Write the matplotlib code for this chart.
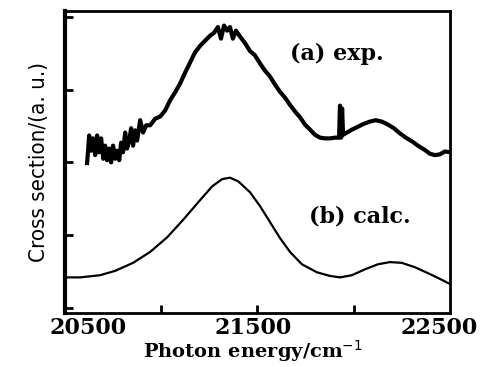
#!/usr/bin/env python3

import numpy as np
import matplotlib
matplotlib.use('Agg')
import matplotlib.pyplot as plt

exp_x = [20614, 20625, 20635, 20645, 20656, 20666, 20677, 20687, 20698, 20708,
         20718, 20729, 20739, 20749, 20760, 20770, 20781, 20791, 20801, 20812,
         20822, 20833, 20843, 20853, 20864, 20874, 20890, 20905, 20921, 20942,
         20968, 20994, 21019, 21045, 21071, 21097, 21123, 21149, 21175, 21201,
         21227, 21253, 21274, 21294, 21310, 21326, 21342, 21357, 21372, 21388,
         21409, 21435, 21461, 21487, 21513, 21539, 21565, 21591, 21617, 21643,
         21669, 21695, 21721, 21747, 21773, 21799, 21825, 21851, 21877, 21903,
         21924, 21929, 21935, 21940, 21945, 21965, 21991, 22022, 22053, 22084,
         22115, 22147, 22178, 22209, 22240, 22271, 22303, 22334, 22365, 22396,
         22422, 22448, 22474, 22500]
exp_y = [1.99, 2.37, 2.16, 2.33, 2.10, 2.37, 2.14, 2.33, 2.05, 2.23,
         2.03, 2.19, 2.00, 2.23, 2.05, 2.16, 2.03, 2.27, 2.14, 2.41,
         2.19, 2.30, 2.47, 2.23, 2.44, 2.30, 2.58, 2.41, 2.51, 2.51,
         2.60, 2.63, 2.71, 2.85, 2.96, 3.08, 3.23, 3.37, 3.51, 3.60,
         3.67, 3.74, 3.78, 3.86, 3.70, 3.88, 3.81, 3.86, 3.70, 3.81,
         3.73, 3.64, 3.53, 3.47, 3.36, 3.26, 3.18, 3.07, 2.97, 2.89,
         2.79, 2.70, 2.62, 2.52, 2.45, 2.38, 2.34, 2.33, 2.33, 2.34,
         2.34, 2.78, 2.34, 2.74, 2.38, 2.41, 2.45, 2.49, 2.53, 2.56,
         2.58, 2.56, 2.52, 2.47, 2.40, 2.34, 2.29, 2.23, 2.18, 2.12,
         2.10, 2.11, 2.15, 2.14]

# (b) calculated spectrum
calc_x = [20500, 20578, 20682, 20760, 20853, 20942, 21030, 21113, 21201, 21264,
          21316, 21357, 21400, 21461, 21513, 21565, 21617, 21669, 21731, 21809,
          21877, 21929, 21991, 22058, 22126, 22188, 22250, 22318, 22385, 22448,
          22500]
calc_y = [0.42, 0.42, 0.45, 0.51, 0.62, 0.77, 0.97, 1.21, 1.48, 1.67,
          1.77, 1.79, 1.74, 1.59, 1.40, 1.18, 0.96, 0.77, 0.60, 0.49,
          0.44, 0.42, 0.45, 0.53, 0.60, 0.63, 0.62, 0.56, 0.48, 0.40,
          0.33]

xtick_pos = [21000, 21500, 22000]
xlabel_pos = [20620, 21475, 22445]   # labels sit a bit off the ticks in the original
xtick_lab = ['20500', '21500', '22500']
ytick_pos = [0, 1, 2, 3, 4]

fig = plt.figure(figsize=(4.9, 3.67), dpi=100)
ax = fig.add_axes([0.133, 0.147, 0.785, 0.823])

ax.plot(exp_x, exp_y, color='black', lw=3.0, solid_joinstyle='round')
ax.plot(calc_x, calc_y, color='black', lw=1.6)

ax.set_xlim(20500, 22500)
ax.set_ylim(-0.07, 4.08)
ax.set_xticks(xlabel_pos)
ax.set_xticklabels(xtick_lab, family='DejaVu Serif', fontweight='bold', fontsize=16)
ax.set_xticks(xtick_pos, minor=True)
ax.tick_params(axis='x', which='major', length=0, pad=3)
ax.tick_params(axis='x', which='minor', direction='in', length=6, width=2)
ax.set_yticks(ytick_pos)
ax.set_yticklabels([])
ax.tick_params(axis='y', direction='in', length=6, width=2)

for s in ax.spines.values():
    s.set_linewidth(2)
ax.spines['left'].set_linewidth(3)

ax.text(21913, 3.49, '(a) exp.', family='DejaVu Serif', fontweight='bold', fontsize=16,
        ha='center', va='center')
ax.text(22032, 1.25, '(b) calc.', family='DejaVu Serif', fontweight='bold', fontsize=16,
        ha='center', va='center')

fig.text(253 / 490, 1 - 351 / 367, 'Photon energy/cm$^{-1}$', family='DejaVu Serif',
         fontweight='bold', fontsize=14, ha='center', va='center')
ax.set_ylabel('Cross section/(a. u.)', family='DejaVu Sans', fontstretch='condensed',
              fontsize=16, labelpad=8)

fig.savefig('out.png', dpi=100)
